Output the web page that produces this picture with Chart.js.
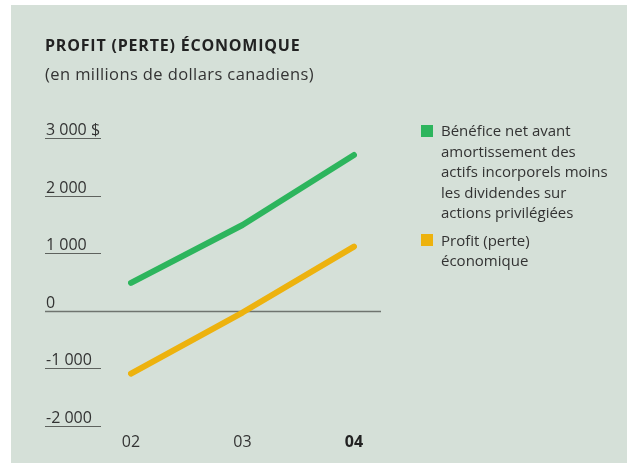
<!DOCTYPE html>
<html>
<head>
<meta charset="utf-8">
<script src="https://cdn.jsdelivr.net/npm/chart.js@4.4.1/dist/chart.umd.min.js"></script>
<style>
  html, body { margin: 0; padding: 0; background: #fff; }
  body { width: 627px; height: 463px; position: relative; overflow: hidden; font-family: "Open Sans", "Noto Sans", sans-serif; color: #333; }
  #panel { position: absolute; left: 11px; top: 5px; width: 616px; height: 458px; background: #d5e0d8; }
  #chart { position: absolute; left: 0; top: 0; }
  #title { position: absolute; left: 45px; top: 34px; font-size: 16px; font-weight: bold; letter-spacing: 0.8px; color: #222; white-space: nowrap; }
  #subtitle { position: absolute; left: 45px; top: 62px; font-size: 16.5px; letter-spacing: 0.4px; color: #333; white-space: nowrap; }
  #legend { position: absolute; left: 421px; top: 120px; }
  .item { position: relative; padding-left: 20px; font-size: 15px; line-height: 20.5px; margin-bottom: 7px; color: #333; white-space: nowrap; }
  .box { position: absolute; left: 0; top: 4.5px; width: 12px; height: 12px; }
</style>
</head>
<body>
<div id="panel"></div>
<canvas id="chart" width="627" height="463"></canvas>
<div id="title">PROFIT (PERTE) ÉCONOMIQUE</div>
<div id="subtitle">(en millions de dollars canadiens)</div>
<div id="legend"></div>
<script>
const years = ['02', '03', '04'];
const beneficeNet = [485, 1490, 2705];
const profitEconomique = [-1090, -30, 1115];
const yTicks = [3000, 2000, 1000, 0, -1000, -2000];
const yTickLabels = ['3 000 $', '2 000', '1 000', '0', '-1 000', '-2 000'];
const seriesNames = [
    ['Bénéfice net avant', 'amortissement des', 'actifs incorporels moins', 'les dividendes sur', 'actions privilégiées'],
    ['Profit (perte)', 'économique']
];
const seriesColors = ['#2db55d', '#edb20e'];

// axes drawn by hand: short underlines for ticks, long zero line
const axisPlugin = {
    id: 'axisPlugin',
    beforeDatasetsDraw(chart) {
        const ctx = chart.ctx;
        const y = chart.scales.y;
        const x = chart.scales.x;
        ctx.save();
        ctx.font = '16px "Open Sans", "Noto Sans", sans-serif';
        ctx.textAlign = 'left';
        ctx.textBaseline = 'alphabetic';
        yTicks.forEach((v, i) => {
            const py = Math.round(y.getPixelForValue(v)) + 0.5;
            ctx.strokeStyle = v === 0 ? '#6f746f' : '#5e625e';
            ctx.lineWidth = v === 0 ? 1.5 : 1;
            ctx.beginPath();
            ctx.moveTo(45, py);
            ctx.lineTo(v === 0 ? 381 : 101, py);
            ctx.stroke();
            ctx.fillStyle = '#333';
            ctx.fillText(yTickLabels[i], 46, py - 4);
        });
        ctx.textAlign = 'center';
        ctx.textBaseline = 'middle';
        years.forEach((lab, i) => {
            ctx.font = (i === years.length - 1 ? 'bold ' : '') + '16px "Open Sans", "Noto Sans", sans-serif';
            ctx.fillStyle = i === years.length - 1 ? '#222' : '#333';
            ctx.fillText(lab, x.getPixelForValue(i), 442);
        });
        ctx.restore();
    }
};

new Chart(document.getElementById('chart'), {
    type: 'line',
    data: {
        labels: years,
        datasets: [
            { data: beneficeNet, borderColor: seriesColors[0] },
            { data: profitEconomique, borderColor: seriesColors[1] }
        ]
    },
    options: {
        responsive: false,
        animation: false,
        layout: { padding: { left: 131, right: 273, top: 138, bottom: 37 } },
        elements: {
            line: { borderWidth: 6, borderCapStyle: 'round', borderJoinStyle: 'round', tension: 0 },
            point: { radius: 0 }
        },
        scales: {
            x: { display: false, offset: false },
            y: { display: false, min: -2000, max: 3000 }
        },
        plugins: { legend: { display: false }, tooltip: { enabled: false } }
    },
    plugins: [axisPlugin]
});

const legend = document.getElementById('legend');
seriesNames.forEach((lines, i) => {
    const item = document.createElement('div');
    item.className = 'item';
    item.innerHTML = '<span class="box" style="background:' + seriesColors[i] + '"></span>' + lines.join('<br>');
    legend.appendChild(item);
});
</script>
</body>
</html>
